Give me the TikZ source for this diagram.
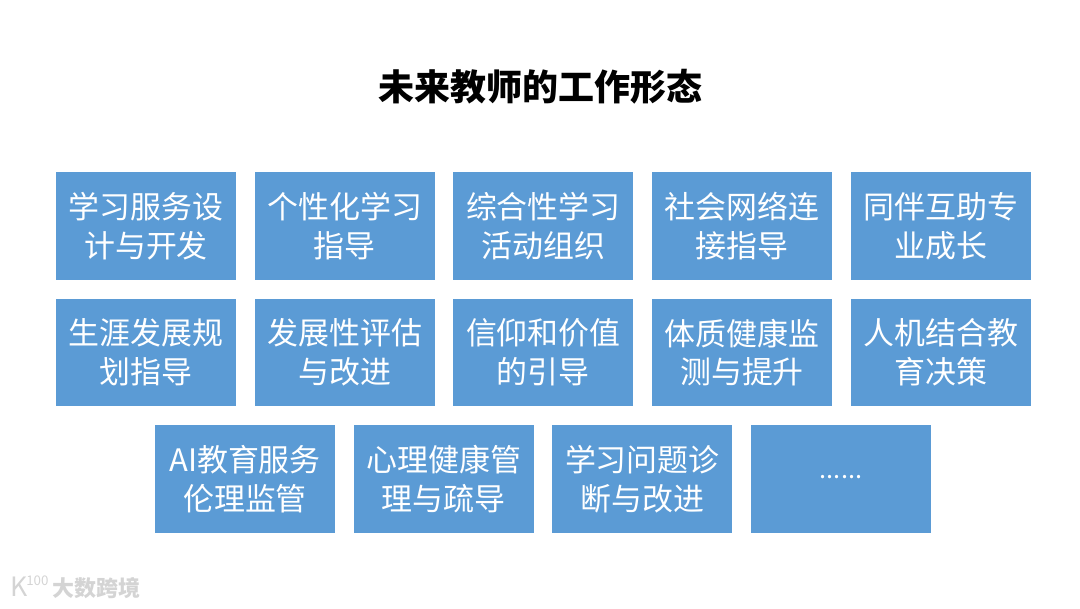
\documentclass[tikz,border=0pt]{standalone}
\usepackage{fontspec}
\setmainfont{Noto Sans CJK SC}
\usetikzlibrary{positioning}
\definecolor{cardblue}{HTML}{5B9BD5}
\definecolor{markgray}{HTML}{D4D4D4}

\begin{document}
\begin{tikzpicture}[
  x=0.75pt, y=-0.75pt,
  every node/.style={align=center},
  card/.style ={rectangle, fill=cardblue, text=white, font=\fontsize{23.2}{29}\selectfont,
                minimum width=135pt, minimum height=80.5pt, inner sep=0pt, outer sep=0pt, text width=125pt},
  head/.style ={font=\fontsize{27}{32}\selectfont\bfseries, inner sep=0pt},
  wmark/.style={text=markgray, inner sep=0pt},
]

\useasboundingbox (0,0) rectangle (1080,608);

% -------- title -----------------------------------------------------------
\node[head] (title) at (540,87) {未来教师的工作形态};

% -------- row 1 -----------------------------------------------------------
\node[card] (a1) at (146,226) {学习服务设\\计与开发};
\node[card, right=14pt of a1] (a2) {个性化学习\\指导};
\node[card, right=14pt of a2] (a3) {综合性学习\\活动组织};
\node[card, right=14pt of a3] (a4) {社会网络连\\接指导};
\node[card, right=14pt of a4] (a5) {同伴互助专\\业成长};

% -------- row 2 -----------------------------------------------------------
\node[card] (b1) at (146,352.5) {生涯发展规\\划指导};
\node[card, right=14pt of b1] (b2) {发展性评估\\与改进};
\node[card, right=14pt of b2] (b3) {信仰和价值\\的引导};
\node[card, right=14pt of b3] (b4) {体质健康监\\测与提升};
\node[card, right=14pt of b4] (b5) {人机结合教\\育决策};

% -------- row 3 -----------------------------------------------------------
\node[card] (c1) at (245,479) {AI教育服务\\伦理监管};
\node[card, right=14pt of c1] (c2) {心理健康管\\理与疏导};
\node[card, right=14pt of c2] (c3) {学习问题诊\\断与改进};
\node[card, right=14pt of c3] (c4) {\raisebox{3pt}{\fontsize{19}{19}\selectfont ......}};

% -------- watermark -------------------------------------------------------
\node[wmark, font=\fontsize{16.5}{16.5}\selectfont\bfseries, anchor=west] (wm2) at (52,588) {大数跨境};
\node[wmark, font=\fontsize{20}{20}\selectfont, anchor=west] (wm1) at (10,587) {K};
\node[wmark, font=\fontsize{10}{10}\selectfont, anchor=west] (wm0) at (26,581) {100};

\end{tikzpicture}
\end{document}
